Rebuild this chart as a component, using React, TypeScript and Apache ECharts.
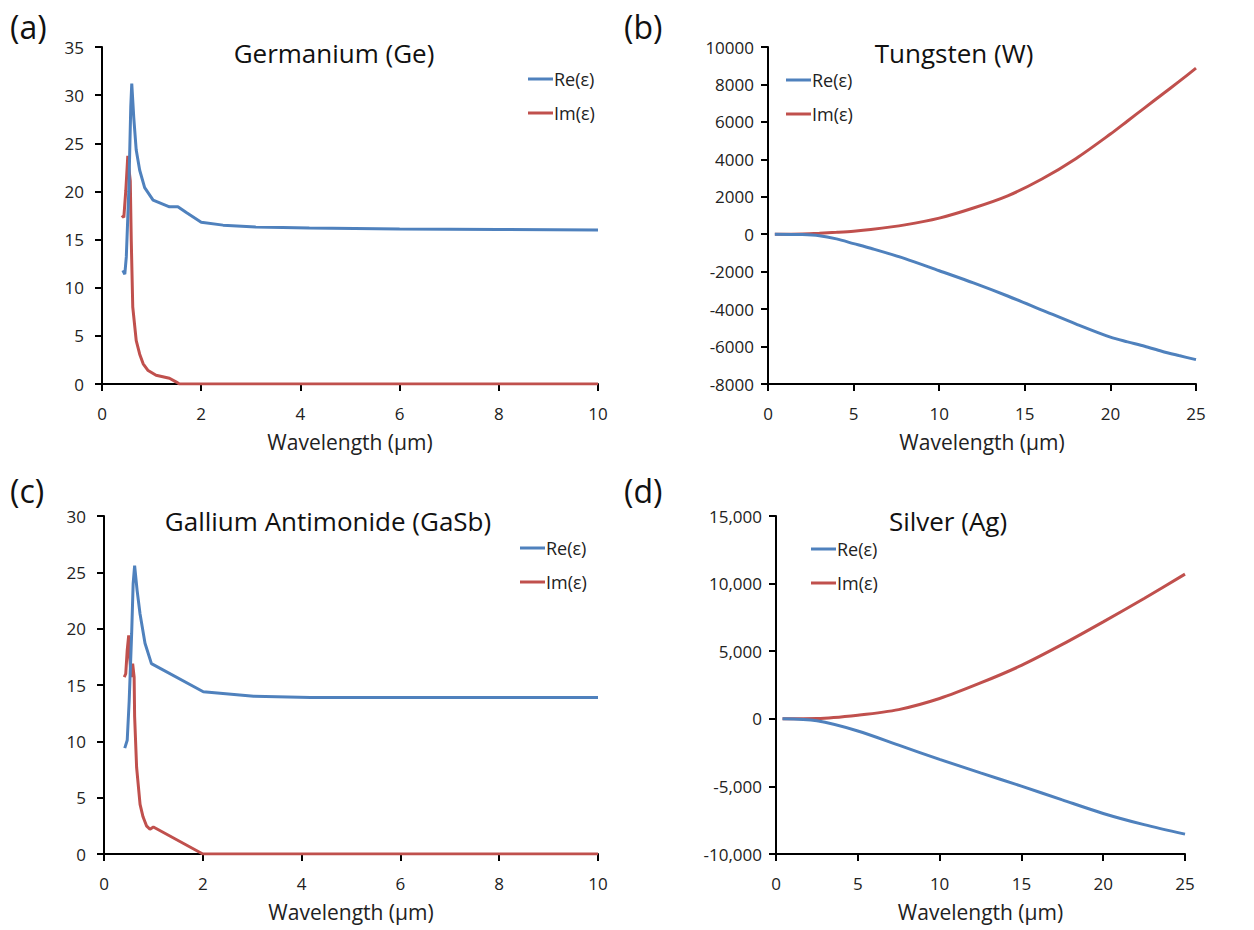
import React, { useEffect, useRef } from "react";
import * as echarts from "echarts";

// Germanium (Ge)
const geReX = [0.42, 0.46, 0.49, 0.54, 0.58, 0.60, 0.64, 0.69, 0.76, 0.86, 1.03, 1.36, 1.53, 1.7, 2.0, 2.44, 3.1, 4.18, 6, 8, 10];
const geReY = [11.8, 11.4, 13.2, 20, 28.8, 31.2, 27.7, 24.3, 22.2, 20.4, 19.1, 18.4, 18.4, 17.8, 16.8, 16.5, 16.3, 16.2, 16.1, 16.05, 16.0];
const geImX = [0.40, 0.44, 0.48, 0.52, 0.54, 0.57, 0.59, 0.62, 0.69, 0.76, 0.83, 0.93, 1.09, 1.36, 1.5, 1.56, 4, 10];
const geImY = [17.5, 17.3, 20.1, 23.7, 22.5, 21.1, 14.9, 8, 4.5, 3.1, 2.1, 1.4, 0.9, 0.6, 0.2, 0, 0, 0];

// Gallium Antimonide (GaSb)
const gaReX = [0.42, 0.47, 0.51, 0.56, 0.59, 0.62, 0.67, 0.73, 0.83, 0.96, 2.01, 3.03, 4.18, 6, 8, 10];
const gaReY = [9.4, 10.1, 13.6, 19.6, 24, 25.6, 23.4, 21.3, 18.7, 16.9, 14.4, 14.0, 13.9, 13.9, 13.9, 13.9];
const gaImX = [0.41, 0.44, 0.47, 0.5, 0.52, 0.55, 0.58, 0.61, 0.62, 0.66, 0.73, 0.79, 0.86, 0.93, 1.0, 2.0, 4, 10];
const gaImY = [15.7, 16.0, 18.1, 19.4, 17.5, 15.7, 16.9, 15.7, 12.2, 7.7, 4.4, 3.3, 2.5, 2.2, 2.4, 0, 0, 0];

// Tungsten (W)
const wX = [0.4, 2, 3, 4, 5, 6, 8, 10, 12, 14, 16, 18, 20, 21, 22, 23, 24, 25];
const wRe = [0, -20, -80, -250, -500, -750, -1300, -1950, -2600, -3300, -4050, -4800, -5500, -5750, -5980, -6250, -6480, -6700];
const wIm = [0, 15, 50, 100, 160, 250, 500, 860, 1400, 2050, 2950, 4050, 5350, 6050, 6750, 7450, 8150, 8870];

// Silver (Ag)
const agX = [0.4, 2.5, 5, 7.5, 10, 12.5, 15, 17.5, 20, 22.5, 25];
const agRe = [0, -150, -900, -1950, -3000, -4000, -4980, -6000, -7000, -7830, -8530];
const agIm = [0, 20, 270, 680, 1500, 2650, 3950, 5500, 7170, 8900, 10700];

const titles = ["Germanium (Ge)", "Tungsten (W)", "Gallium Antimonide (GaSb)", "Silver (Ag)"];
const panelLabels = ["(a)", "(b)", "(c)", "(d)"];
const seriesNames = ["Re(ε)", "Im(ε)"];

const BLUE = "#4F81BD";
const RED = "#C0504D";
const FONT = "'Open Sans', 'Noto Sans', sans-serif";

const zip = (xs: number[], ys: number[]) => xs.map((x, i) => [x, ys[i]]);

export default function App() {
  const ref = useRef<HTMLDivElement>(null);
  useEffect(() => {
    document.body.style.margin = "0";
    const chart = echarts.init(ref.current!, null, { renderer: "svg" });
    const grids = [
      { left: 102, top: 47, width: 496, height: 337 },
      { left: 768, top: 47, width: 428, height: 337 },
      { left: 104, top: 516, width: 494, height: 338 },
      { left: 776, top: 516, width: 409, height: 338 },
    ];
    const axisCommon = {
      axisLine: { show: true, onZero: false, lineStyle: { color: "#000", width: 2 } },
      axisTick: { show: true, inside: false, length: 7, lineStyle: { color: "#000", width: 2 } },
      splitLine: { show: false },
      axisLabel: { color: "#222", fontSize: 17, fontFamily: FONT },
    };
    const xAxes = [
      { min: 0, max: 10, interval: 2 },
      { min: 0, max: 25, interval: 5 },
      { min: 0, max: 10, interval: 2 },
      { min: 0, max: 25, interval: 5 },
    ].map((o, i) => ({
      ...axisCommon,
      type: "value",
      gridIndex: i,
      ...o,
      name: "Wavelength (μm)",
      nameLocation: "middle",
      nameGap: 47,
      nameTextStyle: { color: "#222", fontSize: 21, fontFamily: FONT },
      axisLabel: { ...axisCommon.axisLabel, margin: 21 },
    }));
    const yAxes = [
      { min: 0, max: 35, interval: 5 },
      { min: -8000, max: 10000, interval: 2000 },
      { min: 0, max: 30, interval: 5 },
      { min: -10000, max: 15000, interval: 5000 },
    ].map((o, i) => ({
      ...axisCommon,
      type: "value",
      gridIndex: i,
      ...o,
      axisLabel: {
        ...axisCommon.axisLabel,
        margin: i === 1 || i === 3 ? 14 : 18,
        formatter: (v: number) => (i === 3 ? v.toLocaleString("en-US") : String(v)),
      },
    }));
    const data = [
      [zip(geReX, geReY), zip(geImX, geImY)],
      [zip(wX, wRe), zip(wX, wIm)],
      [zip(gaReX, gaReY), zip(gaImX, gaImY)],
      [zip(agX, agRe), zip(agX, agIm)],
    ];
    const series: any[] = [];
    data.forEach((pair, i) => {
      pair.forEach((d, j) => {
        series.push({
          type: "line",
          name: seriesNames[j],
          xAxisIndex: i,
          yAxisIndex: i,
          data: d,
          showSymbol: false,
          symbol: "none",
          smooth: i === 1 || i === 3 ? 0.3 : false,
          color: j === 0 ? BLUE : RED,
          lineStyle: { width: 3, color: j === 0 ? BLUE : RED },
          z: j === 0 ? 3 : 2,
        });
      });
    });
    const titlePos = [
      { left: 334, top: 40 },
      { left: 954, top: 40 },
      { left: 328, top: 508 },
      { left: 948, top: 508 },
    ];
    const title: any[] = titles.map((t, i) => ({
      text: t,
      left: titlePos[i].left,
      top: titlePos[i].top,
      textAlign: "center",
      padding: 0,
      textStyle: { fontSize: 26, fontWeight: "normal", color: "#111", fontFamily: FONT },
    }));
    const labelPos = [
      { left: 10, top: 10 },
      { left: 624, top: 10 },
      { left: 10, top: 474 },
      { left: 624, top: 474 },
    ];
    panelLabels.forEach((t, i) =>
      title.push({
        text: t,
        left: labelPos[i].left,
        top: labelPos[i].top,
        padding: 0,
        textStyle: { fontSize: 32, fontWeight: "normal", color: "#111", fontFamily: FONT },
      })
    );
    const legendPos = [
      { left: 523, top: 65 },
      { left: 781, top: 66 },
      { left: 515, top: 534 },
      { left: 806, top: 535 },
    ];
    const legend = legendPos.map((p) => ({
      data: seriesNames,
      orient: "vertical",
      left: p.left,
      top: p.top,
      icon: "rect",
      itemWidth: 25,
      itemHeight: 3,
      itemGap: 16,
      textStyle: { fontSize: 18, color: "#222", fontFamily: FONT, padding: [0, 0, 0, -4] },
    }));
    chart.setOption({
      animation: false,
      backgroundColor: "#fff",
      title,
      legend,
      grid: grids,
      xAxis: xAxes,
      yAxis: yAxes,
      series,
    });
    return () => chart.dispose();
  }, []);
  return <div ref={ref} style={{ width: 1254, height: 930 }} />;
}
